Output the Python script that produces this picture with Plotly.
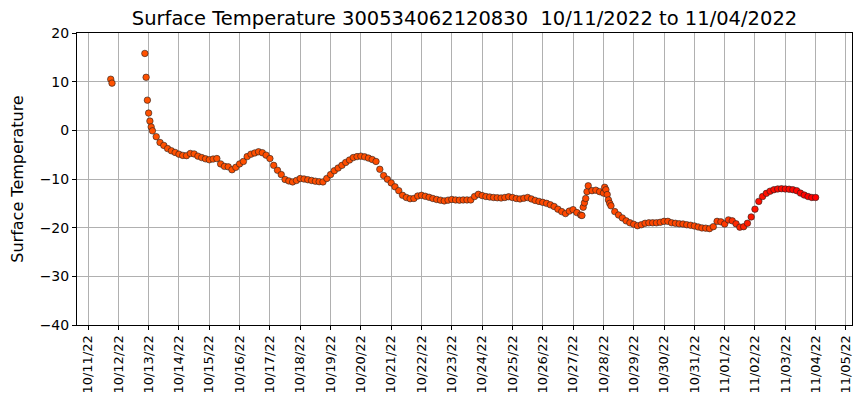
import pandas as pd
import plotly.graph_objects as go

# ---- data ----
early_times = ["2022-10-11 18:00", "2022-10-11 19:00",
               "2022-10-12 21:00", "2022-10-12 22:00", "2022-10-12 23:00",
               "2022-10-13 00:00", "2022-10-13 01:00", "2022-10-13 02:00"]
early_temps = [10.5, 9.7, 15.8, 10.9, 6.2, 3.55, 1.9, 0.7]

main_start = "2022-10-13 03:00"   # 3-hourly readings from here on
main_temps = [
    -0.1, -1.3, -2.5, -3.1, -3.75, -4.2, -4.55, -4.9,
    -5.15, -5.2, -4.75, -4.85, -5.3, -5.6, -5.85, -6.05,
    -5.9, -5.8, -6.9, -7.4, -7.5, -8.1, -7.6, -6.9,
    -6.4, -5.4, -4.9, -4.65, -4.4, -4.6, -5.1, -5.8,
    -7.2, -8.2, -9.1, -10.1, -10.4, -10.6, -10.3, -9.9,
    -10.0, -10.15, -10.3, -10.45, -10.55, -10.6, -9.9, -9.1,
    -8.3, -7.75, -7.2, -6.6, -6.1, -5.6, -5.4, -5.3,
    -5.45, -5.7, -6.0, -6.4, -8.0, -9.3, -10.05, -10.8,
    -11.6, -12.4, -13.35, -13.8, -14.05, -14.0, -13.5, -13.35,
    -13.55, -13.75, -14.0, -14.2, -14.35, -14.5, -14.35, -14.2,
    -14.3, -14.35, -14.3, -14.3, -14.3, -13.6, -13.15, -13.4,
    -13.6, -13.7, -13.8, -13.85, -13.9, -13.8, -13.65, -13.8,
    -14.0, -14.1, -13.95, -13.8, -14.1, -14.4, -14.6, -14.8,
    -15.0, -15.3, -15.65, -16.2, -16.7, -17.1, -16.6, -16.3,
    -16.9, -17.4, -14.9, -11.4, -12.4, -12.3, -12.6, -12.9,
    -13.2, -15.5, -16.7, -17.4, -18.0, -18.6, -19.0, -19.3,
    -19.6, -19.4, -19.1, -19.0, -19.0, -19.0, -18.9, -18.7,
    -18.7, -19.0, -19.1, -19.2, -19.25, -19.4, -19.5, -19.65,
    -19.85, -20.05, -20.1, -20.2, -19.8, -18.7, -18.8, -19.25,
    -18.4, -18.6, -19.2, -19.9, -19.8, -19.1, -17.8, -16.2,
    -14.6, -13.6, -12.95, -12.5, -12.2, -12.05, -12.0, -12.05,
    -12.1, -12.2, -12.4, -12.9, -13.3, -13.6, -13.8, -13.8,
]

extra_times = ["2022-10-27 07:00", "2022-10-27 08:00", "2022-10-27 10:00",
               "2022-10-27 11:00", "2022-10-28 01:00", "2022-10-28 02:00",
               "2022-10-28 04:00", "2022-10-28 05:00"]
extra_temps = [-17.5, -15.8, -14.0, -12.6, -11.7, -12.2, -14.3, -15.0]

title_text = "Surface Temperature 300534062120830  10/11/2022 to 11/04/2022"
y_label = "Surface Temperature"

# ---- assemble ----
main_times = pd.date_range(main_start, periods=len(main_temps), freq="3h")
df = pd.concat([
    pd.DataFrame({"t": pd.to_datetime(early_times), "v": early_temps}),
    pd.DataFrame({"t": main_times, "v": main_temps}),
    pd.DataFrame({"t": pd.to_datetime(extra_times), "v": extra_temps}),
]).sort_values("t").reset_index(drop=True)

t0 = pd.Timestamp("2022-10-11")
days = (df["t"] - t0) / pd.Timedelta(days=1)

fig = go.Figure(go.Scatter(
    x=df["t"], y=df["v"], mode="markers",
    marker=dict(size=6.5, color=days, cmin=0, cmax=24,
                colorscale=[[0, "#ff5200"], [0.86, "#ff4600"],
                            [0.92, "#ff1000"], [1, "#ff0000"]],
                showscale=False,
                line=dict(color="#202020", width=0.6)),
    hoverinfo="x+y",
))

axis_common = dict(showline=True, linecolor="black", linewidth=1, mirror=True,
                   ticks="outside", ticklen=4, tickcolor="black",
                   showgrid=True, gridcolor="#b0b0b0", gridwidth=1,
                   zeroline=False, automargin=False)

# the page body adds an 8px offset, so the figure is sized to fit the window
fig.update_layout(
    width=857, height=400,
    margin=dict(l=69, r=13, t=25, b=83),
    paper_bgcolor="white", plot_bgcolor="white",
    font=dict(family="DejaVu Sans", color="black", size=13),
    title=dict(text=title_text, x=0.5, xref="paper", xanchor="center",
               y=1 - 3 / 400, yref="container", yanchor="top",
               font=dict(size=19.5, family="DejaVu Sans", color="black")),
    showlegend=False,
    xaxis=dict(type="date",
               range=[t0 - pd.Timedelta(days=0.363), t0 + pd.Timedelta(days=25.2)],
               tick0="2022-10-11", dtick=86400000, tickformat="%m/%d/%y",
               tickangle=-90, tickfont=dict(size=13), **axis_common),
    yaxis=dict(range=[-40, 20], dtick=10, tickfont=dict(size=14),
               title=dict(text=y_label, font=dict(size=16), standoff=12),
               **axis_common),
)

fig.write_html("out.html")
